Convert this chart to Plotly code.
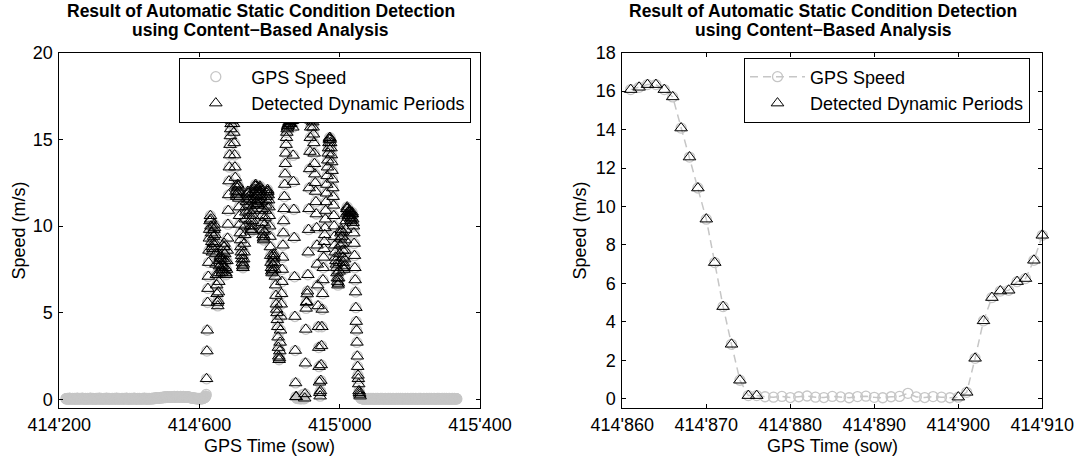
import numpy as np
import plotly.graph_objects as go

# ---------------------------------------------------------------------------
# GPS speed (m/s), 1 Hz epochs starting at 414'219 sow
# ---------------------------------------------------------------------------
T_START = 414219

# static before departure: 414219 .. 414619
static_1 = [
    0.05, 0.06, 0.04, 0.05, 0.07, 0.06, 0.05, 0.04, 0.05, 0.06, 0.08, 0.07, 0.05, 0.04, 0.05, 0.06, 0.05, 0.04, 0.06, 0.07,
    0.06, 0.05, 0.04, 0.05, 0.06, 0.07, 0.06, 0.05, 0.04, 0.04, 0.05, 0.06, 0.08, 0.07, 0.06, 0.05, 0.05, 0.04, 0.05, 0.06,
    0.07, 0.06, 0.05, 0.05, 0.04, 0.06, 0.07, 0.08, 0.06, 0.05, 0.04, 0.05, 0.06, 0.05, 0.04, 0.05, 0.07, 0.06, 0.05, 0.04,
    0.05, 0.06, 0.07, 0.06, 0.05, 0.04, 0.05, 0.06, 0.05, 0.07, 0.08, 0.06, 0.05, 0.04, 0.05, 0.05, 0.06, 0.07, 0.06, 0.05,
    0.04, 0.05, 0.06, 0.05, 0.04, 0.05, 0.07, 0.06, 0.05, 0.06, 0.07, 0.05, 0.04, 0.05, 0.06, 0.08, 0.07, 0.05, 0.04, 0.05,
    0.06, 0.07, 0.05, 0.04, 0.05, 0.06, 0.05, 0.04, 0.06, 0.07, 0.06, 0.05, 0.05, 0.04, 0.06, 0.07, 0.08, 0.06, 0.05, 0.04,
    0.05, 0.05, 0.06, 0.07, 0.06, 0.05, 0.04, 0.05, 0.06, 0.05, 0.04, 0.06, 0.07, 0.06, 0.05, 0.04, 0.05, 0.06, 0.07, 0.06,
    0.05, 0.04, 0.05, 0.06, 0.08, 0.07, 0.05, 0.04, 0.05, 0.06, 0.05, 0.07, 0.06, 0.05, 0.04, 0.05, 0.06, 0.05, 0.04, 0.06,
    0.07, 0.06, 0.05, 0.04, 0.05, 0.06, 0.07, 0.06, 0.05, 0.05, 0.04, 0.06, 0.07, 0.08, 0.06, 0.05, 0.04, 0.05, 0.06, 0.05,
    0.04, 0.05, 0.07, 0.06, 0.05, 0.04, 0.05, 0.06, 0.07, 0.05, 0.04, 0.05, 0.06, 0.05, 0.07, 0.08, 0.06, 0.05, 0.04, 0.05,
    0.06, 0.05, 0.04, 0.05, 0.06, 0.07, 0.06, 0.05, 0.04, 0.06, 0.07, 0.05, 0.04, 0.05, 0.06, 0.05, 0.04, 0.06, 0.07, 0.06,
    0.05, 0.04, 0.06, 0.07, 0.08, 0.06, 0.05, 0.04, 0.05, 0.06, 0.05, 0.07, 0.06, 0.05, 0.04, 0.05, 0.06, 0.07, 0.06, 0.05,
    0.04, 0.05, 0.06, 0.05, 0.07, 0.06, 0.05, 0.06, 0.08, 0.07, 0.06, 0.05, 0.07, 0.08, 0.09, 0.08, 0.07, 0.08, 0.09, 0.10,
    0.09, 0.08, 0.10, 0.11, 0.10, 0.09, 0.11, 0.12, 0.11, 0.10, 0.12, 0.13, 0.12, 0.11, 0.10, 0.12, 0.13, 0.14, 0.12, 0.11,
    0.13, 0.14, 0.15, 0.13, 0.12, 0.14, 0.16, 0.15, 0.13, 0.14, 0.15, 0.16, 0.14, 0.13, 0.15, 0.16, 0.17, 0.15, 0.14, 0.16,
    0.17, 0.15, 0.14, 0.16, 0.17, 0.16, 0.15, 0.14, 0.16, 0.18, 0.17, 0.15, 0.14, 0.15, 0.17, 0.16, 0.15, 0.17, 0.18, 0.16,
    0.15, 0.16, 0.17, 0.15, 0.14, 0.16, 0.17, 0.18, 0.16, 0.15, 0.14, 0.16, 0.17, 0.15, 0.16, 0.18, 0.17, 0.15, 0.14, 0.15,
    0.16, 0.17, 0.15, 0.14, 0.15, 0.16, 0.14, 0.13, 0.15, 0.16, 0.14, 0.13, 0.12, 0.14, 0.13, 0.12, 0.11, 0.12, 0.10, 0.11,
    0.10, 0.09, 0.10, 0.08, 0.09, 0.08, 0.07, 0.08, 0.06, 0.07, 0.08, 0.06, 0.05, 0.07, 0.06, 0.05, 0.06, 0.07, 0.05, 0.06,
    0.05, 0.06, 0.07, 0.05, 0.04, 0.06, 0.07, 0.08, 0.06, 0.05, 0.07, 0.08, 0.09, 0.10, 0.12, 0.11, 0.13, 0.15, 0.18, 0.22,
    0.30,
]

# first drive: 414620 .. 414876
dynamic_1 = [
    1.2, 2.8, 4.0, 5.6, 6.4, 7.1, 7.9, 8.6, 9.3, 9.8,
    10.3, 10.6, 10.4, 10.0, 9.6, 9.1, 8.8, 8.5, 8.7, 9.0,
    9.4, 9.8, 10.1, 9.9, 9.5, 9.0, 8.4, 7.8, 7.2, 6.6,
    6.1, 5.6, 5.4, 5.7, 6.2, 6.8, 7.3, 7.7, 8.0, 8.2,
    8.3, 8.1, 7.8, 7.5, 7.3, 7.4, 7.7, 8.1, 8.5, 8.8,
    9.0, 8.8, 8.4, 8.0, 7.6, 7.3, 7.2, 7.5, 8.0, 8.6,
    9.3, 10.1, 10.9, 11.8, 12.6, 13.4, 14.1, 14.7, 15.2, 15.6,
    15.9, 16.1, 16.3, 16.4, 16.5, 16.4, 16.2, 15.9, 15.4, 14.8,
    14.1, 13.4, 12.8, 12.3, 12.0, 11.8, 11.7, 11.9, 12.2, 12.4,
    12.3, 12.0, 11.6, 11.1, 10.6, 10.1, 9.6, 9.2, 8.8, 8.5,
    8.3, 8.1, 7.9, 7.7, 7.6, 7.8, 8.1, 8.5, 9.0, 9.5,
    10.0, 10.4, 10.8, 11.1, 11.4, 11.6, 11.8, 11.9, 12.0, 11.9,
    11.7, 11.5, 11.2, 10.9, 10.6, 10.3, 10.0, 9.8, 9.7, 9.8,
    10.0, 10.3, 10.6, 10.9, 11.2, 11.5, 11.7, 11.9, 12.1, 12.3,
    12.4, 12.3, 12.1, 11.8, 11.5, 11.3, 11.2, 11.3, 11.5, 11.8,
    12.0, 12.2, 12.3, 12.2, 12.0, 11.7, 11.4, 11.0, 10.6, 10.2,
    9.8, 9.5, 9.3, 9.2, 9.4, 9.7, 10.1, 10.5, 10.9, 11.2,
    11.5, 11.7, 11.9, 12.0, 12.1, 12.0, 11.8, 11.5, 11.1, 10.6,
    10.0, 9.4, 8.8, 8.3, 7.9, 7.6, 7.4, 7.3, 7.5, 7.8,
    8.1, 8.3, 8.4, 8.2, 7.9, 7.5, 7.1, 6.6, 6.0, 5.5,
    5.2, 5.0, 4.6, 4.2, 3.6, 3.0, 2.5, 2.3, 2.4, 2.8,
    3.3, 4.0, 4.8, 5.5, 6.1, 6.8, 7.5, 8.2, 8.9, 9.6,
    10.3, 11.0, 11.7, 12.4, 13.0, 13.6, 14.2, 14.7, 15.1, 15.4,
    15.6, 15.7, 15.8, 15.8, 15.9, 15.9, 16.0, 16.0, 15.9, 15.9,
    15.9, 16.08, 16.2, 16.34, 16.34, 16.08, 15.7, 14.08, 12.57, 10.96,
    9.34, 7.08, 4.79, 2.83, 0.96, 0.16, 0.16,
]

# stop: 414877 .. 414899
static_2 = [
    0.10, 0.08, 0.12, 0.06, 0.10, 0.14, 0.08, 0.06, 0.12, 0.09,
    0.05, 0.11, 0.13, 0.07, 0.05, 0.10, 0.12, 0.28, 0.09, 0.06,
    0.11, 0.08, 0.05,
]

# second drive: 414900 .. 415058
dynamic_2 = [
    0.08, 0.33, 2.1, 4.05, 5.26, 5.6, 5.64, 6.09, 6.25, 7.2,
    8.5, 9.8, 11.0, 12.2, 13.3, 14.3, 15.1, 15.7, 16.1, 16.3,
    16.4, 16.3, 16.2, 16.0, 15.7, 15.3, 14.8, 14.2, 13.6, 13.0,
    12.5, 12.0, 11.4, 10.7, 9.9, 8.9, 7.8, 6.6, 5.4, 4.2,
    3.0, 1.9, 1.0, 0.4, 0.2, 0.5, 1.1, 2.0, 3.1, 4.2,
    5.2, 6.1, 6.9, 7.6, 8.2, 8.7, 9.1, 9.5, 9.9, 10.4,
    10.9, 11.4, 11.9, 12.4, 12.9, 13.4, 13.8, 14.2, 14.5, 14.8,
    15.0, 15.1, 15.1, 15.0, 14.8, 14.5, 14.1, 13.7, 13.2, 12.7,
    12.2, 11.7, 11.2, 10.6, 10.0, 9.4, 8.9, 8.5, 8.2, 8.0,
    7.8, 7.6, 7.3, 7.0, 6.8, 6.6, 6.7, 7.0, 7.4, 7.9,
    8.4, 8.9, 9.3, 9.6, 9.8, 9.7, 9.4, 9.0, 8.6, 8.2,
    7.9, 7.6, 7.5, 7.7, 8.1, 8.6, 9.2, 9.8, 10.3, 10.7,
    11.0, 11.1, 11.0, 10.8, 10.6, 10.5, 10.6, 10.8, 10.9, 10.8,
    10.6, 10.4, 10.3, 10.5, 10.7, 10.8, 10.7, 10.4, 10.2, 10.0,
    9.6, 9.0, 8.3, 7.6, 6.9, 6.2, 5.3, 4.5, 4.0, 3.3,
    2.5, 1.9, 1.4, 1.2, 0.9, 0.5, 0.4, 0.3, 0.2,
]

# static after arrival: 415059 .. 415334
static_3 = [
    0.12, 0.09, 0.08, 0.07, 0.06, 0.05, 0.06, 0.05, 0.04, 0.05, 0.06, 0.05, 0.04, 0.05, 0.06, 0.07, 0.05, 0.04, 0.05, 0.06,
    0.05, 0.04, 0.06, 0.07, 0.06, 0.05, 0.04, 0.05, 0.06, 0.05, 0.07, 0.06, 0.05, 0.04, 0.05, 0.06, 0.07, 0.05, 0.04, 0.05,
    0.06, 0.05, 0.04, 0.05, 0.07, 0.06, 0.05, 0.04, 0.06, 0.07, 0.05, 0.04, 0.05, 0.06, 0.05, 0.04, 0.06, 0.05, 0.07, 0.06,
    0.05, 0.06, 0.07, 0.05, 0.04, 0.05, 0.06, 0.05, 0.04, 0.05, 0.06, 0.07, 0.06, 0.05, 0.04, 0.06, 0.05, 0.04, 0.05, 0.07,
    0.06, 0.05, 0.04, 0.05, 0.06, 0.07, 0.05, 0.04, 0.06, 0.05, 0.04, 0.05, 0.06, 0.07, 0.06, 0.05, 0.04, 0.05, 0.06, 0.05,
    0.04, 0.06, 0.07, 0.05, 0.04, 0.05, 0.06, 0.05, 0.07, 0.06, 0.05, 0.04, 0.05, 0.06, 0.07, 0.06, 0.05, 0.04, 0.05, 0.06,
    0.07, 0.05, 0.04, 0.05, 0.06, 0.05, 0.04, 0.06, 0.07, 0.06, 0.05, 0.05, 0.04, 0.06, 0.05, 0.07, 0.06, 0.05, 0.04, 0.05,
    0.06, 0.05, 0.04, 0.05, 0.07, 0.06, 0.05, 0.04, 0.05, 0.06, 0.07, 0.05, 0.04, 0.06, 0.05, 0.04, 0.05, 0.06, 0.07, 0.06,
    0.05, 0.04, 0.05, 0.06, 0.05, 0.04, 0.06, 0.07, 0.05, 0.04, 0.05, 0.06, 0.07, 0.06, 0.05, 0.04, 0.06, 0.05, 0.04, 0.05,
    0.06, 0.07, 0.05, 0.04, 0.05, 0.06, 0.05, 0.04, 0.06, 0.07, 0.06, 0.05, 0.04, 0.05, 0.06, 0.05, 0.07, 0.06, 0.05, 0.04,
    0.05, 0.06, 0.07, 0.05, 0.04, 0.06, 0.05, 0.04, 0.05, 0.06, 0.07, 0.06, 0.05, 0.04, 0.05, 0.06, 0.05, 0.04, 0.06, 0.07,
    0.05, 0.04, 0.05, 0.06, 0.07, 0.06, 0.05, 0.04, 0.05, 0.06, 0.05, 0.04, 0.06, 0.07, 0.05, 0.04, 0.05, 0.06, 0.05, 0.07,
    0.06, 0.05, 0.04, 0.05, 0.06, 0.07, 0.05, 0.04, 0.06, 0.05, 0.04, 0.05, 0.06, 0.07, 0.06, 0.05, 0.04, 0.05, 0.06, 0.05,
    0.04, 0.06, 0.07, 0.05, 0.04, 0.05, 0.06, 0.05, 0.07, 0.06, 0.05, 0.04, 0.05, 0.06, 0.05, 0.04,
]

# intervals flagged as dynamic by the content-based detector (sow, inclusive)
dynamic_periods = [(414620, 414876), (414900, 415058)]

# detail window shown in the right-hand panel
detail_window = (414861, 414910)

x_ticks_overview = [414200, 414600, 415000, 415400]
x_ticks_detail = [414860, 414870, 414880, 414890, 414900, 414910]
y_ticks_overview = [0, 5, 10, 15, 20]
y_ticks_detail = [0, 2, 4, 6, 8, 10, 12, 14, 16, 18]

TITLE_1 = "Result of Automatic Static Condition Detection"
TITLE_2 = "using Content\u2212Based Analysis"

# ---------------------------------------------------------------------------
assert len(static_1) == 401 and len(dynamic_1) == 257 and len(static_2) == 23
assert len(dynamic_2) == 159 and len(static_3) == 276

speed = np.array(static_1 + dynamic_1 + static_2 + dynamic_2 + static_3)
t = T_START + np.arange(len(speed))

is_dyn = np.zeros(len(t), dtype=bool)
for a, b in dynamic_periods:
    is_dyn |= (t >= a) & (t <= b)
in_win = (t >= detail_window[0]) & (t <= detail_window[1])


def sow_label(v):
    return f"{v // 1000}'{v % 1000:03d}"


W, H = 1083, 463
FONT = "Liberation Sans, Arial, Helvetica, sans-serif"
GRAY = "#c6c6c6"
FS = 18

circle_marker = dict(symbol="circle-open", size=10, color=GRAY, line=dict(width=1.3))
tri_marker = dict(symbol="triangle-up-open", size=11, color="black", line=dict(width=1))

fig = go.Figure()

# overview panel
fig.add_trace(go.Scatter(x=t, y=speed, mode="markers", name="GPS Speed",
                         marker=circle_marker, xaxis="x", yaxis="y", legend="legend"))
fig.add_trace(go.Scatter(x=t[is_dyn], y=speed[is_dyn], mode="markers",
                         name="Detected Dynamic Periods", marker=tri_marker,
                         xaxis="x", yaxis="y", legend="legend"))

# detail panel
fig.add_trace(go.Scatter(x=t[in_win], y=speed[in_win], mode="lines+markers", name="GPS Speed",
                         line=dict(color=GRAY, width=1.5, dash="8px,5px"),
                         marker=circle_marker, cliponaxis=False,
                         xaxis="x2", yaxis="y2", legend="legend2"))
fig.add_trace(go.Scatter(x=t[in_win & is_dyn], y=speed[in_win & is_dyn], mode="markers",
                         name="Detected Dynamic Periods", marker=tri_marker, cliponaxis=False,
                         xaxis="x2", yaxis="y2", legend="legend2"))

axis_style = dict(showline=True, linecolor="black", linewidth=1, mirror="ticks",
                  ticks="inside", ticklen=4, tickwidth=1, tickcolor="black",
                  showgrid=False, zeroline=False,
                  tickfont=dict(family=FONT, size=FS, color="black"))

y_dom = [(H - 408.3) / H, (H - 52.7) / H]
left_px = (59.3, 480.0)
right_px = (622.3, 1042.3)
legend_top = 57.5

fig.update_layout(
    template="none",
    width=W, height=H, autosize=False,
    margin=dict(l=0, r=0, t=0, b=0, pad=0),
    paper_bgcolor="white", plot_bgcolor="white",
    font=dict(family=FONT, size=FS, color="black"),
    xaxis=dict(domain=[left_px[0] / W, left_px[1] / W], range=[414200, 415400],
               tickvals=x_ticks_overview, ticktext=[sow_label(v) for v in x_ticks_overview],
               anchor="y", ticklabelstandoff=0, **axis_style),
    yaxis=dict(domain=y_dom, range=[-0.5, 20], tickvals=y_ticks_overview,
               anchor="x", ticklabelstandoff=2, **axis_style),
    xaxis2=dict(domain=[right_px[0] / W, right_px[1] / W], range=[414860, 414910],
                tickvals=x_ticks_detail, ticktext=[sow_label(v) for v in x_ticks_detail],
                anchor="y2", ticklabelstandoff=0, **axis_style),
    yaxis2=dict(domain=y_dom, range=[-0.5, 18], tickvals=y_ticks_detail,
                anchor="x2", ticklabelstandoff=2, **axis_style),
    legend=dict(x=179.3 / W, y=1 - legend_top / H, xanchor="left", yanchor="top",
                bgcolor="white", bordercolor="black", borderwidth=1,
                font=dict(family=FONT, size=FS, color="black"),
                itemwidth=61, tracegroupgap=0),
    legend2=dict(x=744 / W, y=1 - legend_top / H, xanchor="left", yanchor="top",
                 bgcolor="white", bordercolor="black", borderwidth=1,
                 font=dict(family=FONT, size=FS, color="black"),
                 itemwidth=55, tracegroupgap=0),
)

annotations = []
for cx in ((left_px[0] + left_px[1]) / 2 - 9, (right_px[0] + right_px[1]) / 2 - 9):
    annotations.append(dict(text=f"<b>{TITLE_1}</b>", x=cx / W, y=1 - 11.5 / H,
                            xref="paper", yref="paper", xanchor="center", yanchor="middle",
                            showarrow=False, font=dict(family=FONT, size=17.5)))
    annotations.append(dict(text=f"<b>{TITLE_2}</b>", x=cx / W, y=1 - 30 / H,
                            xref="paper", yref="paper", xanchor="center", yanchor="middle",
                            showarrow=False, font=dict(family=FONT, size=17.5)))
for px0, px1, lx in ((left_px[0], left_px[1], 18), (right_px[0], right_px[1], 579)):
    annotations.append(dict(text="GPS Time (sow)", x=(px0 + px1) / 2 / W, y=1 - 446 / H,
                            xref="paper", yref="paper", xanchor="center", yanchor="middle",
                            showarrow=False, font=dict(family=FONT, size=FS)))
    annotations.append(dict(text="Speed (m/s)", x=lx / W, y=1 - 230.5 / H, textangle=-90,
                            xref="paper", yref="paper", xanchor="center", yanchor="middle",
                            showarrow=False, font=dict(family=FONT, size=FS)))
fig.update_layout(annotations=annotations)

fig.write_html("out.html")
